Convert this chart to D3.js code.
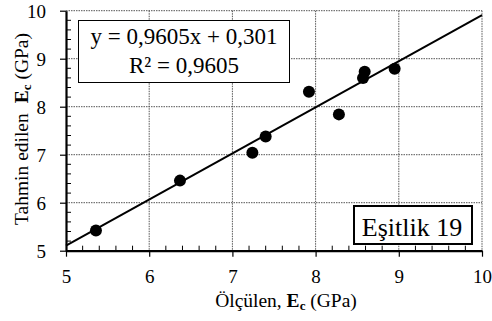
<!DOCTYPE html>
<html>
<head>
<meta charset="utf-8">
<script src="https://cdn.jsdelivr.net/npm/d3@7"></script>
<style>
    body { margin: 0; background: #fff; }
</style>
</head>
<body>
<script>
// measured vs predicted values
var measured  = [5.36, 6.37, 7.24, 7.40, 7.92, 8.28, 8.57, 8.59, 8.95];
var predicted = [5.42, 6.46, 7.04, 7.38, 8.31, 7.84, 8.60, 8.73, 8.79];
var xTicks = [5, 6, 7, 8, 9, 10];
var yTicks = [5, 6, 7, 8, 9, 10];
var slope = 0.9605, intercept = 0.301;

(function()
{
    var serif = "Liberation Serif";
    var w = 492, h = 321;
    var pLeft = 66, pRight = 482, pTop = 10.7, pBottom = 250.7;

    var svg = d3.select("body").append("svg")
        .attr("width", w)
        .attr("height", h)
        .attr("font-family", serif);

    var x = d3.scaleLinear().domain([5, 10]).range([pLeft, pRight]);
    var y = d3.scaleLinear().domain([5, 10]).range([pBottom, pTop]);

    // grid (dotted), also top and right frame
    var grid = svg.append("g")
        .attr("stroke", "#555")
        .attr("stroke-width", 1)
        .attr("stroke-dasharray", "1.5,1");
    grid.selectAll("line.vx")
        .data(xTicks.slice(1))
        .enter().append("line")
        .attr("class", "vx")
        .attr("x1", function(d) { return x(d); })
        .attr("x2", function(d) { return x(d); })
        .attr("y1", pTop).attr("y2", pBottom);
    grid.selectAll("line.hy")
        .data(yTicks.slice(1))
        .enter().append("line")
        .attr("class", "hy")
        .attr("x1", pLeft).attr("x2", pRight)
        .attr("y1", function(d) { return y(d); })
        .attr("y2", function(d) { return y(d); });

    // minor ticks (inside)
    var minor = d3.range(5, 10.001, 0.2).filter(function(d) { return Math.abs(d - Math.round(d)) > 0.01; });
    svg.append("g").selectAll("line")
        .data(minor)
        .enter().append("line")
        .attr("x1", function(d) { return x(d); })
        .attr("x2", function(d) { return x(d); })
        .attr("y1", pBottom).attr("y2", pBottom - 5)
        .attr("stroke", "#000").attr("stroke-width", 1);
    svg.append("g").selectAll("line")
        .data(minor)
        .enter().append("line")
        .attr("x1", pLeft).attr("x2", pLeft + 5)
        .attr("y1", function(d) { return y(d); })
        .attr("y2", function(d) { return y(d); })
        .attr("stroke", "#000").attr("stroke-width", 1);

    // axes
    var fmt = d3.format("d");
    var xAxis = svg.append("g")
        .attr("transform", "translate(0," + pBottom + ")")
        .call(d3.axisBottom(x).tickValues(xTicks).tickFormat(fmt).tickSize(6).tickPadding(13).tickSizeOuter(0));
    var yAxis = svg.append("g")
        .attr("transform", "translate(" + pLeft + ",0)")
        .call(d3.axisLeft(y).tickValues(yTicks).tickFormat(fmt).tickSize(6).tickPadding(10).tickSizeOuter(0));
    [xAxis, yAxis].forEach(function(a) {
        a.attr("font-family", serif).attr("font-size", 19);
        a.select(".domain").attr("stroke", "#000").attr("stroke-width", 2.2);
        a.selectAll(".tick line").attr("stroke", "#000").attr("stroke-width", 1.2);
        a.selectAll(".tick text").attr("fill", "#000");
    });
    yAxis.selectAll(".tick text").attr("dx", "-4").attr("dy", "0.34em");

    // regression line
    var lineGen = d3.line()
        .x(function(d) { return x(d); })
        .y(function(d) { return y(slope * d + intercept); });
    svg.append("path")
        .datum([5, 10])
        .attr("d", lineGen)
        .attr("fill", "none")
        .attr("stroke", "#000")
        .attr("stroke-width", 2);

    // points
    svg.append("g").selectAll("circle")
        .data(measured)
        .enter().append("circle")
        .attr("cx", function(d) { return x(d); })
        .attr("cy", function(d, i) { return y(predicted[i]); })
        .attr("r", 6)
        .attr("fill", "#000");

    // equation box
    svg.append("rect")
        .attr("x", 78.5).attr("y", 20.5)
        .attr("width", 211).attr("height", 62)
        .attr("fill", "#fff").attr("stroke", "#000").attr("stroke-width", 1);
    svg.append("text")
        .attr("x", 184).attr("y", 43.5)
        .attr("text-anchor", "middle")
        .attr("font-family", serif)
        .attr("font-size", "23px")
        .text("y = 0,9605x + 0,301");
    svg.append("text")
        .attr("x", 184).attr("y", 72.5)
        .attr("text-anchor", "middle")
        .attr("font-family", serif)
        .attr("font-size", "23px")
        .text("R² = 0,9605");

    // Eşitlik box
    svg.append("rect")
        .attr("x", 354).attr("y", 206)
        .attr("width", 118).attr("height", 38)
        .attr("fill", "#fff").attr("stroke", "#000").attr("stroke-width", 2);
    svg.append("text")
        .attr("x", 412).attr("y", 236)
        .attr("text-anchor", "middle")
        .attr("font-family", serif)
        .attr("font-size", "26px")
        .text("Eşitlik 19");

    // axis titles
    var xt = svg.append("text")
        .attr("x", 286).attr("y", 307)
        .attr("text-anchor", "middle")
        .attr("font-family", serif)
        .attr("font-size", "19.5px");
    xt.append("tspan").text("Ölçülen, ");
    xt.append("tspan").attr("font-weight", "bold").text("E");
    xt.append("tspan").attr("font-weight", "bold").attr("font-size", "13px").attr("dy", "3").text("c");
    xt.append("tspan").attr("dy", "-3").text(" (GPa)");

    var yt = svg.append("text")
        .attr("transform", "translate(28,129) rotate(-90)")
        .attr("text-anchor", "middle")
        .attr("font-family", serif)
        .attr("font-size", "19.5px");
    yt.append("tspan").text("Tahmin edilen");
    yt.append("tspan").attr("dx", "10").attr("font-weight", "bold").text("E");
    yt.append("tspan").attr("font-weight", "bold").attr("font-size", "13px").attr("dy", "3").text("c");
    yt.append("tspan").attr("dy", "-3").text(" (GPa)");
})();
</script>
</body>
</html>
